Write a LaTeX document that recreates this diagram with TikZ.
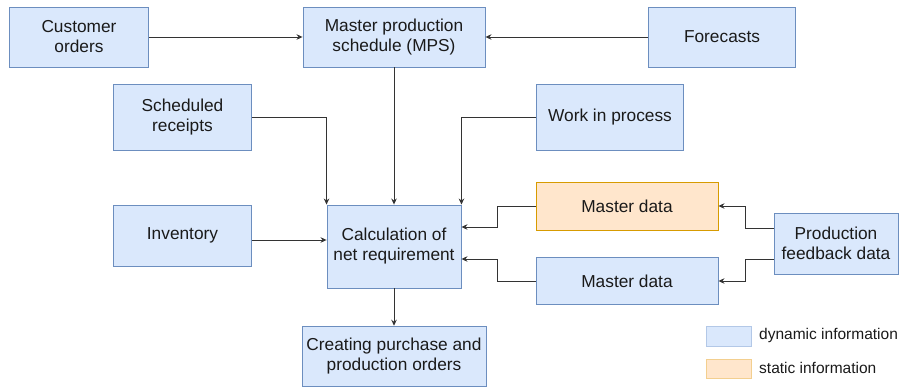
\documentclass[tikz,border=0pt]{standalone}
\usepackage{fontspec}
\setmainfont{Liberation Sans}
\usetikzlibrary{arrows.meta}
\definecolor{dynfill}{HTML}{DAE8FC}
\definecolor{dynline}{HTML}{6C8EBF}
\definecolor{stfill}{HTML}{FFE6CC}
\definecolor{stline}{HTML}{D79B00}
\definecolor{conn}{HTML}{333333}
\definecolor{txt}{HTML}{1A1A1A}
\begin{document}
\begin{tikzpicture}[x=1pt,y=-1pt,
  box/.style={draw=dynline, fill=dynfill, line width=0.9pt, inner sep=0pt,
    align=center, text=txt, font=\fontsize{17.3}{20}\selectfont},
  sbox/.style={box, draw=stline, fill=stfill},
  arr/.style={draw=conn, line width=0.9pt, -{Stealth[length=6pt,width=5.5pt]}},
  legbox/.style={draw=dynline!35!dynfill, fill=dynfill, line width=0.8pt, inner sep=0pt,
    minimum width=45pt, minimum height=19.7pt},
  legtxt/.style={anchor=west, inner sep=0pt, text=txt, font=\fontsize{15.5}{18}\selectfont}]
\useasboundingbox (0,0) rectangle (899,387);

\node[box, minimum width=139pt, minimum height=60pt] (cust) at (79,37) {Customer\\orders};
\node[box, minimum width=182pt, minimum height=60pt] (mps) at (394,37) {Master production\\schedule (MPS)};
\node[box, minimum width=147pt, minimum height=60pt] (fore) at (722,37) {Forecasts};
\node[box, minimum width=138pt, minimum height=66pt] (sched) at (182.5,117) {Scheduled\\receipts};
\node[box, minimum width=147pt, minimum height=66pt] (wip) at (610,117) {Work in process};
\node[box, minimum width=138pt, minimum height=61pt] (inv) at (182.5,235.5) {Inventory};
\node[box, minimum width=134pt, minimum height=83pt] (calc) at (394,246.5) {Calculation of\\net requirement};
\node[sbox, minimum width=182pt, minimum height=48pt] (mdo) at (627,206) {Master data};
\node[box, minimum width=182pt, minimum height=47pt] (mdb) at (627,281) {Master data};
\node[box, minimum width=124pt, minimum height=61pt] (pfd) at (836,243.5) {Production\\feedback data};
\node[box, minimum width=184pt, minimum height=60pt] (create) at (394,356.2) {Creating purchase and\\production orders};

\draw[arr] (cust.east) -- (mps.west);
\draw[arr] (fore.west) -- (mps.east);
\draw[arr] (mps.south) -- (mps.south |- calc.north);
\draw[arr] (sched.east) -| (calc.north west);
\draw[arr] (wip.west) -| (calc.north east);
\draw[arr] ([yshift=-4.5pt]inv.east) -- ([yshift=-4.5pt]inv.east -| calc.west);
\draw[arr] (mdo.west) -- ++(-38,0) |- ([yshift=19.5pt]calc.east);
\draw[arr] (mdb.west) -- ++(-38,0) |- ([yshift=-12.5pt]calc.east);
\draw[arr] ([yshift=15.5pt]pfd.west) -- ++(-28,0) |- (mdo.east);
\draw[arr] ([yshift=-15.5pt]pfd.west) -- ++(-28,0) |- (mdb.east);
\draw[arr] (calc.south) -- (calc.south |- create.north);

\node[legbox] (ldyn) at (729,336.2) {};
\node[legbox, draw=stline!30!stfill, fill=stfill] (lst) at (729,368.8) {};
\node[legtxt] (ldyntxt) at (759,335.7) {dynamic information};
\node[legtxt] (lsttxt) at (759,368.3) {static information};
\end{tikzpicture}
\end{document}
